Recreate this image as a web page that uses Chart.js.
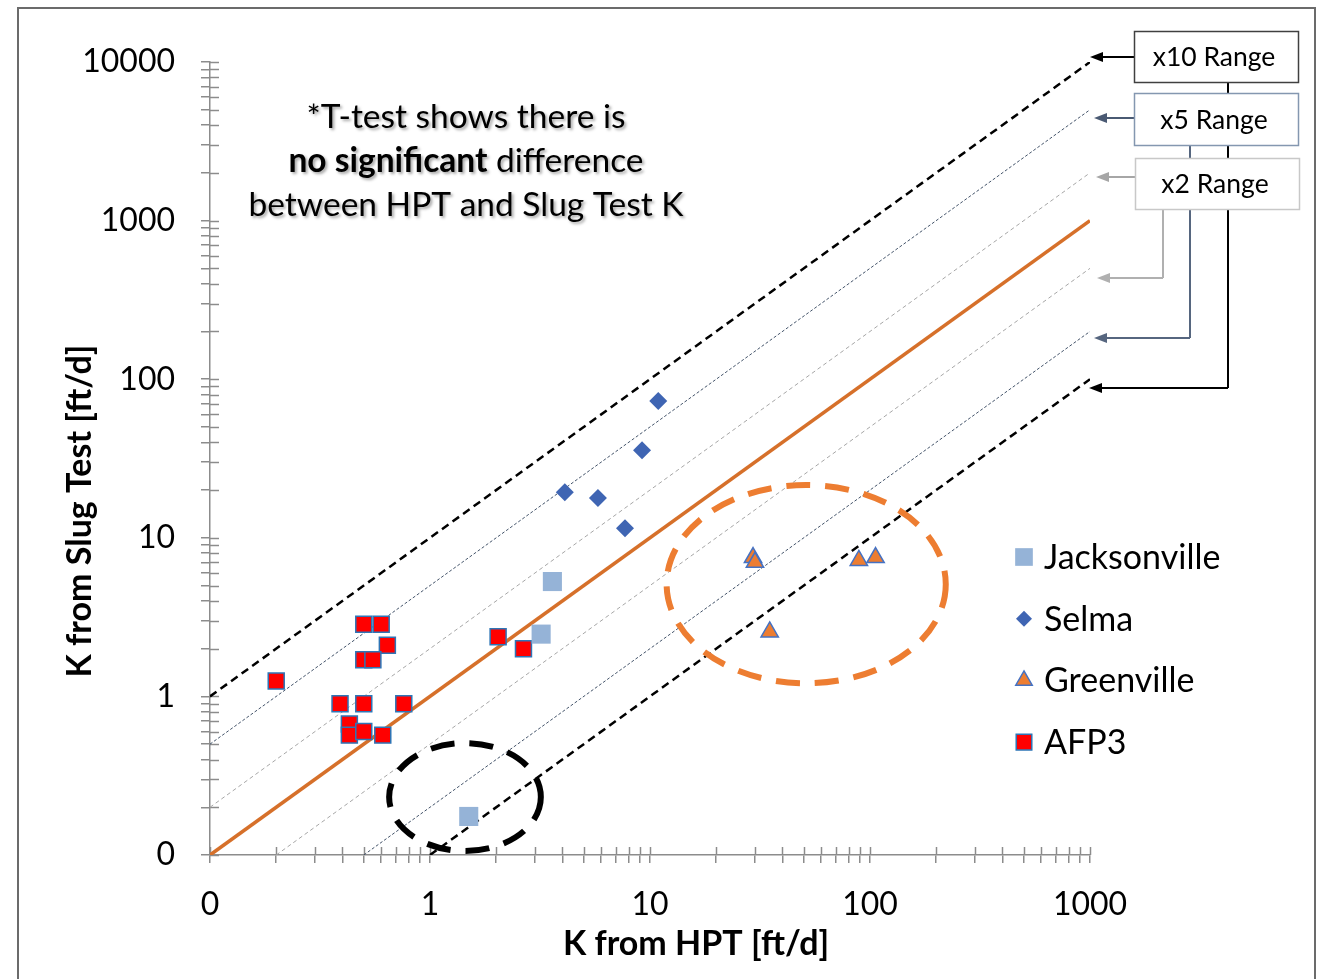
<!DOCTYPE html>
<html>
<head>
<meta charset="utf-8">
<script src="https://cdn.jsdelivr.net/npm/chart.js@4.4.1/dist/chart.umd.min.js"></script>
<style>
  html, body { margin: 0; padding: 0; background: #fff; }
  #wrap { position: relative; width: 1324px; height: 979px; overflow: hidden; }
  #frame { position: absolute; left: 17px; top: 7px; width: 1299px; height: 1020px; border: 2px solid #6b6b6b; box-sizing: border-box; }
  canvas { position: absolute; left: 0; top: 0; }
</style>
</head>
<body>
<div id="wrap">
  <div id="frame"></div>
  <canvas id="chart" width="1324" height="979"></canvas>
</div>
<script>
// site data, K from HPT (x) vs K from slug test (y), ft/d
const jacksonvilleX = [3.6, 3.2, 1.5];
const jacksonvilleY = [5.3, 2.47, 0.175];
const selmaX = [10.9, 9.2, 4.1, 5.8, 7.7];
const selmaY = [73, 35.6, 19.4, 17.8, 11.5];
const greenvilleX = [29.4, 30, 89, 106, 35];
const greenvilleY = [7.5, 7.0, 7.2, 7.5, 2.55];
const afp3X = [0.2, 0.5, 0.6, 0.64, 0.5, 0.55, 0.39, 0.5, 0.76, 0.43, 0.43, 0.5, 0.61, 2.04, 2.66];
const afp3Y = [1.25, 2.85, 2.85, 2.1, 1.7, 1.7, 0.9, 0.9, 0.9, 0.67, 0.57, 0.6, 0.57, 2.38, 2.0];

// reference lines: x10, x5, x2 above, 1:1, x2, x5, x10 below
const guideStartX = [0.1, 0.1, 0.1, 0.1, 0.2, 0.5, 1];
const guideStartY = [1, 0.5, 0.2, 0.1, 0.1, 0.1, 0.1];
const guideEndX = [1000, 1000, 1000, 1000, 1000, 1000, 1000];
const guideEndY = [10000, 5000, 2000, 1000, 500, 200, 100];

const xTickValues = [0.1, 1, 10, 100, 1000];
const xTickLabels = ['0', '1', '10', '100', '1000'];
const yTickValues = [0.1, 1, 10, 100, 1000, 10000];
const yTickLabels = ['0', '1', '10', '100', '1000', '10000'];

const rangeLabels = ['x10 Range', 'x5 Range', 'x2 Range'];
const noteLines = [['*T-test shows there is'], ['no significant', ' difference'], ['between HPT and Slug Test K']];

// circled groups, bounds in data units
const circles = [
  { xMin: 11.9, xMax: 221, yMin: 1.21, yMax: 21.5, color: '#ed7d31' },
  { xMin: 0.652, xMax: 3.19, yMin: 0.106, yMax: 0.508, color: '#000000' }
];

const FONT = 'Lato, "Open Sans", sans-serif';
const axisGray = '#8c8c8c';

const pts = (xs, ys) => xs.map((x, i) => ({ x: x, y: ys[i] }));

const guideStyles = [
  { color: '#000000', width: 2.5, dash: [8, 5] },
  { color: '#44546a', width: 1, dash: [3, 2] },
  { color: '#a6a6a6', width: 1, dash: [4, 3] },
  { color: '#d6702a', width: 3.6, dash: [] },
  { color: '#a6a6a6', width: 1, dash: [4, 3] },
  { color: '#44546a', width: 1, dash: [3, 2] },
  { color: '#000000', width: 2.5, dash: [8, 5] }
];

const guideSets = guideStyles.map((s, i) => ({
  type: 'line',
  label: 'guide' + i,
  data: [{ x: guideStartX[i], y: guideStartY[i] }, { x: guideEndX[i], y: guideEndY[i] }],
  borderColor: s.color,
  borderWidth: s.width,
  borderDash: s.dash,
  pointRadius: 0,
  showLine: true,
  fill: false,
  order: 10
}));

const siteSets = [
  { label: 'Jacksonville', data: pts(jacksonvilleX, jacksonvilleY), pointStyle: 'rect', pointRadius: 13.5,
    backgroundColor: '#95b3d7', borderColor: '#95b3d7', borderWidth: 0, legendRadius: 12.5 },
  { label: 'Selma', data: pts(selmaX, selmaY), pointStyle: 'rectRot', pointRadius: 9,
    backgroundColor: '#3f65b3', borderColor: '#3f65b3', borderWidth: 0, legendRadius: 8 },
  { label: 'Greenville', data: pts(greenvilleX, greenvilleY), pointStyle: 'triangle', pointRadius: 10,
    backgroundColor: '#ed7d31', borderColor: '#4472c4', borderWidth: 1.5, legendRadius: 9.5 },
  { label: 'AFP3', data: pts(afp3X, afp3Y), pointStyle: 'rect', pointRadius: 11.3,
    backgroundColor: '#ff0000', borderColor: '#2e75b6', borderWidth: 1.5, legendRadius: 11 }
].map(d => Object.assign(d, { type: 'scatter', order: 1, pointHoverRadius: d.pointRadius }));

function decadeTicks(min, max) {
  const out = [];
  for (let e = Math.log10(min); e < Math.log10(max); e++) {
    for (let m = 1; m < 10; m++) out.push({ value: +(m * Math.pow(10, e)).toPrecision(6), major: m === 1 });
  }
  out.push({ value: max, major: true });
  return out;
}

function arrowTo(ctx, x1, y, x2, color) {
  ctx.save();
  ctx.strokeStyle = color;
  ctx.fillStyle = color;
  ctx.lineWidth = 2;
  ctx.beginPath();
  ctx.moveTo(x1, y);
  ctx.lineTo(x2 + 10, y);
  ctx.stroke();
  ctx.beginPath();
  ctx.moveTo(x2, y);
  ctx.lineTo(x2 + 13, y - 5);
  ctx.lineTo(x2 + 13, y + 5);
  ctx.closePath();
  ctx.fill();
  ctx.restore();
}

const decorPlugin = {
  id: 'decor',
  beforeDatasetsDraw(chart) {
    const ctx = chart.ctx;
    const xs = chart.scales.x, ys = chart.scales.y;
    const area = chart.chartArea;
    ctx.save();
    ctx.strokeStyle = axisGray;
    ctx.lineWidth = 1.5;
    // inner half of the crossing tick marks
    xs.ticks.forEach(t => {
      const px = Math.round(xs.getPixelForValue(t.value)) + 0.5;
      ctx.beginPath();
      ctx.moveTo(px, area.bottom);
      ctx.lineTo(px, area.bottom - 8);
      ctx.stroke();
    });
    ys.ticks.forEach(t => {
      const py = Math.round(ys.getPixelForValue(t.value)) + 0.5;
      ctx.beginPath();
      ctx.moveTo(area.left, py);
      ctx.lineTo(area.left + 9, py);
      ctx.stroke();
    });
    ctx.restore();
  },
  afterDatasetsDraw(chart) {
    const ctx = chart.ctx;
    const xs = chart.scales.x, ys = chart.scales.y;
    const area = chart.chartArea;

    // dashed ellipses
    circles.forEach(c => {
      const l = xs.getPixelForValue(c.xMin), r = xs.getPixelForValue(c.xMax);
      const t = ys.getPixelForValue(c.yMax), b = ys.getPixelForValue(c.yMin);
      ctx.save();
      ctx.strokeStyle = c.color;
      ctx.lineWidth = 6;
      ctx.setLineDash([24, 15]);
      ctx.beginPath();
      ctx.ellipse((l + r) / 2, (t + b) / 2, (r - l) / 2, (b - t) / 2, 0, 0, Math.PI * 2);
      ctx.stroke();
      ctx.restore();
    });

    // note with shadow
    ctx.save();
    ctx.shadowColor = 'rgba(0,0,0,0.35)';
    ctx.shadowOffsetX = 2;
    ctx.shadowOffsetY = 2;
    ctx.shadowBlur = 3;
    ctx.fillStyle = '#000';
    ctx.textBaseline = 'middle';
    const cx = area.left + 256;
    noteLines.forEach((parts, i) => {
      const y = area.top + 55 + i * 44;
      const fonts = parts.map((p, j) => (parts.length > 1 && j === 0 ? 'bold ' : '') + '33.5px ' + FONT);
      let total = 0;
      parts.forEach((p, j) => { ctx.font = fonts[j]; total += ctx.measureText(p).width; });
      let x = cx - total / 2;
      ctx.textAlign = 'left';
      parts.forEach((p, j) => {
        ctx.font = fonts[j];
        ctx.fillText(p, x, y);
        x += ctx.measureText(p).width;
      });
    });
    ctx.restore();

    // axis titles
    ctx.save();
    ctx.fillStyle = '#000';
    ctx.font = 'bold 34px ' + FONT;
    ctx.textAlign = 'center';
    ctx.textBaseline = 'middle';
    ctx.fillText('K from HPT [ft/d]', 696, 944);
    ctx.translate(80, 511);
    ctx.rotate(-Math.PI / 2);
    ctx.fillText('K from Slug Test [ft/d]', 0, 0);
    ctx.restore();

    // legend
    ctx.save();
    ctx.font = '34px ' + FONT;
    ctx.textBaseline = 'middle';
    ctx.textAlign = 'left';
    siteSets.forEach((d, i) => {
      const y = 557 + i * 61.7;
      ctx.fillStyle = d.backgroundColor;
      ctx.strokeStyle = d.borderColor;
      ctx.lineWidth = d.borderWidth;
      Chart.helpers.drawPoint(ctx, { pointStyle: d.pointStyle, radius: d.legendRadius, borderWidth: d.borderWidth, rotation: 0 }, 1024, y);
      ctx.fillStyle = '#000';
      ctx.fillText(d.label, 1044, y + 1);
    });
    ctx.restore();

    // range callouts
    const tip = xs.getPixelForValue(1000);
    ctx.save();
    [['#000000', 1228, 82, 388, tip - 1], ['#56667f', 1190, 145, 338, tip + 4], ['#b0b0b0', 1163, 209, 278, tip + 7]].forEach(c => {
      ctx.strokeStyle = c[0];
      ctx.lineWidth = 2;
      ctx.beginPath();
      ctx.moveTo(c[1], c[2]);
      ctx.lineTo(c[1], c[3]);
      ctx.stroke();
      arrowTo(ctx, c[1], c[3], c[4], c[0]);
    });
    const boxes = [
      { x: 1134, y: 31, w: 164, h: 51, border: '#404040', arrow: '#000000', ay: 57, tip: tip },
      { x: 1134, y: 93, w: 164, h: 52, border: '#8497b0', arrow: '#4a5a73', ay: 118, tip: tip + 4 },
      { x: 1135, y: 158, w: 164, h: 51, border: '#c8c8c8', arrow: '#a6a6a6', ay: 177, tip: tip + 6 }
    ];
    boxes.forEach((b, i) => {
      arrowTo(ctx, b.x, b.ay, b.tip, b.arrow);
      ctx.fillStyle = '#fff';
      ctx.fillRect(b.x, b.y, b.w, b.h);
      ctx.strokeStyle = b.border;
      ctx.lineWidth = 1.5;
      ctx.strokeRect(b.x + 0.5, b.y + 0.5, b.w, b.h);
      ctx.fillStyle = '#000';
      ctx.font = '26.5px ' + FONT;
      ctx.textAlign = 'center';
      ctx.textBaseline = 'middle';
      ctx.fillText(rangeLabels[i], b.x + b.w / 2 - 2, b.y + b.h / 2 + 1);
    });
    ctx.restore();
  }
};

const labelFor = (vals, labels) => (v) => {
  const i = vals.findIndex(t => Math.abs(t - v) < t * 1e-6);
  return i >= 0 ? labels[i] : '';
};

new Chart(document.getElementById('chart'), {
  type: 'scatter',
  data: { datasets: siteSets.concat(guideSets) },
  options: {
    responsive: false,
    devicePixelRatio: 1,
    animation: false,
    layout: { padding: { left: 0, top: 62, right: 234, bottom: 24 } },
    plugins: { legend: { display: false }, tooltip: { enabled: false } },
    scales: {
      x: {
        type: 'logarithmic',
        min: 0.1,
        max: 1000,
        afterBuildTicks: s => { s.ticks = decadeTicks(0.1, 1000); },
        afterFit: s => { s.height = 100; },
        border: { color: axisGray, width: 1.5 },
        grid: { drawOnChartArea: false, drawTicks: true, tickLength: 8, color: axisGray, lineWidth: 1.5 },
        ticks: {
          autoSkip: false, maxRotation: 0, padding: 22,
          color: '#000', font: { family: FONT, size: 32 },
          callback: labelFor(xTickValues, xTickLabels)
        }
      },
      y: {
        type: 'logarithmic',
        min: 0.1,
        max: 10000,
        afterBuildTicks: s => { s.ticks = decadeTicks(0.1, 10000); },
        afterFit: s => { s.width = 210; },
        border: { color: axisGray, width: 1.5 },
        grid: { drawOnChartArea: false, drawTicks: true, tickLength: 9, color: axisGray, lineWidth: 1.5 },
        ticks: {
          autoSkip: false, padding: 26,
          color: '#000', font: { family: FONT, size: 32 },
          callback: labelFor(yTickValues, yTickLabels)
        }
      }
    }
  },
  plugins: [decorPlugin]
});
</script>
</body>
</html>
